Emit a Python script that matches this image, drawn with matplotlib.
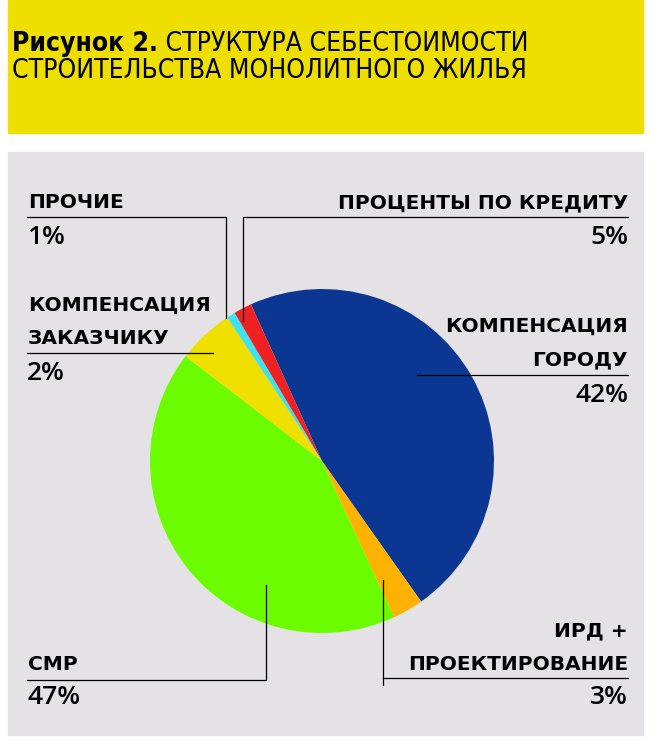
import matplotlib
matplotlib.use("Agg")
import matplotlib.pyplot as plt
from matplotlib.patches import Rectangle

# -------------------------------------------------------------------
# DATA (slice shares as drawn, printed labels as printed)
# -------------------------------------------------------------------
names = ["КОМПЕНСАЦИЯ ГОРОДУ", "ИРД + ПРОЕКТИРОВАНИЕ", "СМР",
         "КОМПЕНСАЦИЯ ЗАКАЗЧИКУ", "ПРОЧИЕ", "ПРОЦЕНТЫ ПО КРЕДИТУ"]
shares = [47.0, 2.9, 42.3, 5.3, 0.8, 1.7]
pct_labels = ["42%", "3%", "47%", "2%", "1%", "5%"]
colors = ["#0b3692", "#ffb300", "#6cfc00", "#efe000", "#3de3ee", "#ee2222"]

TITLE_BOLD = "Рисунок 2."
TITLE_1 = " СТРУКТУРА СЕБЕСТОИМОСТИ"
TITLE_2 = "СТРОИТЕЛЬСТВА МОНОЛИТНОГО ЖИЛЬЯ"

# -------------------------------------------------------------------
# FIGURE: one axes in pixel coordinates (y goes down)
# -------------------------------------------------------------------
W, H = 659, 741
fig = plt.figure(figsize=(W / 100, H / 100), dpi=100, facecolor="white")
ax = fig.add_axes([0, 0, 1, 1])

ax.add_patch(Rectangle((8, 0), 635, 133, color="#eedf00", zorder=0))
ax.add_patch(Rectangle((8, 152), 635, 583, color="#e4e2e4", zorder=0))

# y axis is inverted, so visual clockwise = counterclock in data
ax.pie(shares, colors=colors, startangle=-114.4, counterclock=True,
       center=(322, 461), radius=172,
       wedgeprops={"linewidth": 0})
ax.set_xlim(0, W)
ax.set_ylim(H, 0)
ax.set_aspect("auto")
ax.axis("off")

# -------------------------------------------------------------------
# TITLE
# -------------------------------------------------------------------
tfont = dict(fontsize=19, family="DejaVu Sans", fontstretch="condensed",
             va="center", ha="left")
t0 = ax.text(12, 44, TITLE_BOLD, fontweight="bold", **tfont)
fig.canvas.draw()
bb = t0.get_window_extent()
ax.text(12 + bb.width, 44, TITLE_1, **tfont)
ax.text(12, 71, TITLE_2, **tfont)

# -------------------------------------------------------------------
# LABELS + LEADER LINES
# -------------------------------------------------------------------
lab = dict(fontsize=14.5, fontweight="bold", family="DejaVu Sans", va="center")
pct = dict(fontsize=19, fontweight="semibold", family="Open Sans", va="center")
line = dict(color="black", lw=0.9)

# прочие
ax.text(28, 203, "ПРОЧИЕ", ha="left", **lab)
ax.text(27, 237, pct_labels[4], ha="left", **pct)
ax.plot([27, 226, 226], [217, 217, 318], **line)

# проценты по кредиту
ax.text(628, 203, "ПРОЦЕНТЫ ПО КРЕДИТУ", ha="right", **lab)
ax.text(628, 237, pct_labels[5], ha="right", **pct)
ax.plot([628, 243, 243], [217, 217, 321], **line)

# компенсация заказчику
ax.text(28, 305, "КОМПЕНСАЦИЯ", ha="left", **lab)
ax.text(28, 338, "ЗАКАЗЧИКУ", ha="left", **lab)
ax.text(27, 374, pct_labels[3], ha="left", **pct)
ax.plot([27, 213], [353, 353], **line)

# компенсация городу
ax.text(628, 326, "КОМПЕНСАЦИЯ", ha="right", **lab)
ax.text(628, 360, "ГОРОДУ", ha="right", **lab)
ax.text(628, 395, pct_labels[0], ha="right", **pct)
ax.plot([417, 628], [375, 375], **line)

# смр
ax.text(28, 665, "СМР", ha="left", **lab)
ax.text(27, 697, pct_labels[2], ha="left", **pct)
ax.plot([27, 266, 266], [680, 680, 585], **line)

# ирд + проектирование
ax.text(628, 631, "ИРД +", ha="right", **lab)
ax.text(628, 664, "ПРОЕКТИРОВАНИЕ", ha="right", **lab)
ax.text(628, 697, pct_labels[1], ha="right", **pct)
ax.plot([628, 383], [678, 678], **line)
ax.plot([383, 383], [685, 580], **line)

fig.savefig("out.png", dpi=100, facecolor="white")
